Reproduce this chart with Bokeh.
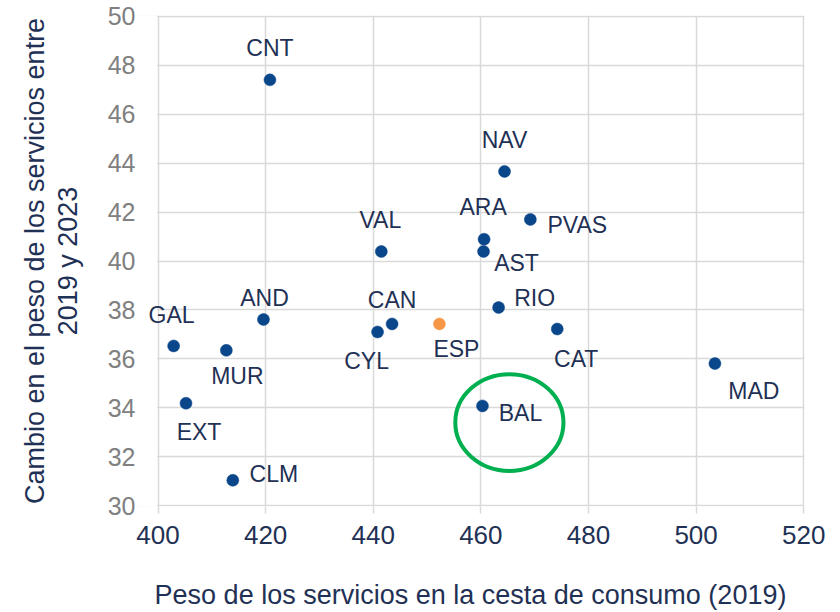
from bokeh.plotting import figure
from bokeh.models import ColumnDataSource, Label, FixedTicker, BoxAnnotation
from bokeh.embed import file_html
from bokeh.resources import INLINE

# ---- data ----
regions = ["CNT", "NAV", "PVAS", "ARA", "AST", "VAL", "RIO", "AND", "CAN",
           "CYL", "ESP", "CAT", "GAL", "MUR", "MAD", "EXT", "BAL", "CLM"]
peso_2019 = [420.8, 464.4, 469.2, 460.6, 460.5, 441.5, 463.3, 419.6, 443.5,
             440.8, 452.3, 474.2, 402.9, 412.7, 503.5, 405.2, 460.3, 413.9]
cambio = [47.40, 43.66, 41.70, 40.89, 40.39, 40.39, 38.10, 37.61, 37.43,
          37.10, 37.43, 37.22, 36.53, 36.35, 35.81, 34.19, 34.08, 31.04]
x_ticks = [400, 420, 440, 460, 480, 500, 520]
y_ticks = [30, 32, 34, 36, 38, 40, 42, 44, 46, 48, 50]
highlight = "BAL"
national = "ESP"

# ---- label placement (screen px, dx right / dy down) ----
offsets = {
    "CNT": (0, -32), "NAV": (0, -31), "PVAS": (47, 6), "ARA": (-1, -32),
    "AST": (33, 12), "VAL": (-1, -31), "RIO": (36, -10), "AND": (1, -21),
    "CAN": (0, -24), "CYL": (-11, 29), "ESP": (17, 25), "CAT": (19, 30),
    "GAL": (-2, -31), "MUR": (11, 26), "MAD": (39, 27), "EXT": (13, 29),
    "BAL": (38, 7), "CLM": (41, -6),
}

DOT = "#0a468a"
ORANGE = "#f79646"
TEXT = "#1f3155"
GRID = "#d9d9d9"
FONT = "Liberation Sans"

colors = [ORANGE if r == national else DOT for r in regions]
src = ColumnDataSource(dict(x=peso_2019, y=cambio, name=regions, color=colors))

x0, x1 = x_ticks[0], x_ticks[-1]
y0, y1 = y_ticks[0], y_ticks[-1]
# a little extra room on the left so the "GAL" label is not cut by the frame;
# that strip is blanked out below, so the visible grid still starts at 400
p = figure(width=840, height=612, x_range=(x0 - 4, x1 + 0.15),
           y_range=(y0 - 0.03, y1 + 0.03),
           output_backend="svg", toolbar_location=None,
           min_border_left=136, min_border_right=36,
           min_border_top=15, min_border_bottom=103)
p.background_fill_color = "white"
p.border_fill_color = "white"
p.outline_line_color = None

p.xaxis.ticker = FixedTicker(ticks=x_ticks)
p.yaxis.ticker = FixedTicker(ticks=y_ticks)
p.xgrid.ticker = FixedTicker(ticks=x_ticks)
p.ygrid.ticker = FixedTicker(ticks=y_ticks)
for g in (p.xgrid, p.ygrid):
    g.grid_line_color = GRID
    g.grid_line_width = 1.5

p.add_layout(BoxAnnotation(right=x0 - 0.15, fill_color="white", fill_alpha=1,
                           line_color=None, level="underlay"))

p.xaxis.axis_line_color = None
p.yaxis.axis_line_color = None
p.xaxis.minor_tick_line_color = None
p.yaxis.minor_tick_line_color = None
p.xaxis.major_tick_line_color = GRID
p.xaxis.major_tick_line_width = 1.5
p.xaxis.major_tick_in = 0
p.xaxis.major_tick_out = 7
p.yaxis.major_tick_line_color = None
p.yaxis.major_tick_in = 0
p.yaxis.major_tick_out = 0

p.xaxis.major_label_text_font = FONT
p.xaxis.major_label_text_font_size = "26px"
p.xaxis.major_label_text_color = TEXT
p.xaxis.major_label_standoff = 12
p.yaxis.major_label_text_font = FONT
p.yaxis.major_label_text_font_size = "25px"
p.yaxis.major_label_text_color = "#808080"
p.yaxis.major_label_standoff = 1

p.xaxis.axis_label = "Peso de los servicios en la cesta de consumo (2019)"
p.yaxis.axis_label = "Cambio en el peso de los servicios entre\n2019 y 2023"
for ax in (p.xaxis, p.yaxis):
    ax.axis_label_text_font = FONT
    ax.axis_label_text_font_size = "27px"
    ax.axis_label_text_font_style = "normal"
    ax.axis_label_text_color = TEXT
    ax.axis_label_text_line_height = 1.1
p.xaxis.axis_label_standoff = 33
p.yaxis.axis_label_standoff = 22

p.scatter("x", "y", source=src, size=12, fill_color="color",
          line_color="color", line_width=0.5)

for r, xv, yv in zip(regions, peso_2019, cambio):
    dx, dy = offsets[r]
    p.add_layout(Label(x=xv, y=yv, text=r, x_offset=dx, y_offset=-dy,
                       text_align="center", text_baseline="middle",
                       text_font=FONT, text_font_size="23px",
                       text_color=TEXT))

# highlight ring around BAL
i = regions.index(highlight)
p.ellipse(x=[peso_2019[i] + 5.0], y=[cambio[i] - 0.68], width=20.1, height=3.95,
          fill_color=None, line_color="#00b050", line_width=4)

open("out.html", "w").write(file_html(p, INLINE))
